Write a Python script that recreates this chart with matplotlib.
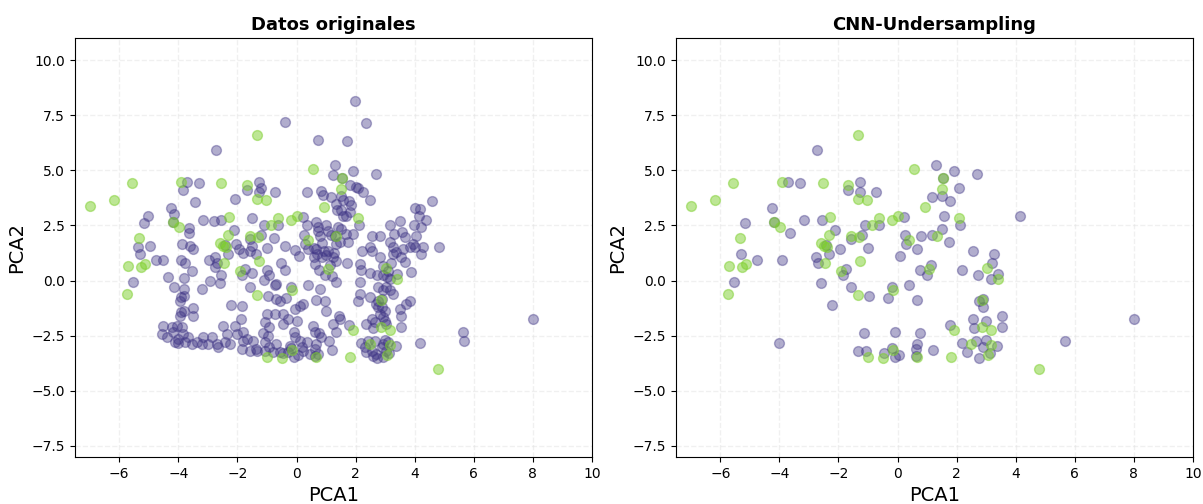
#Grafico PCA: datos originales vs CNN-Undersampling

import matplotlib
matplotlib.use('Agg')
import matplotlib.pyplot as plt
import numpy as np

# clase minoritaria (verde), igual en ambos graficos
min_x = [-6.98, -6.19, -5.56, -3.92, -2.54, -1.34, 0.55, -1.68, -1.34, -1.03,
         -4.19, -3.99, -2.30, -2.32, -5.33, -5.69, -5.26, -5.13, -2.59, -2.48,
         -2.40, -2.45, -1.59, -1.29, -1.28, -1.90, -0.88, -0.64, -0.19, 0.00,
         0.40, 0.94, 1.54, 1.50, 2.07, 1.33, 1.05, 3.02, 3.40, -5.73,
         -1.34, -0.17, -1.00, -0.49, -0.16, 0.66, 1.91, 2.87, 3.16, 2.47,
         3.15, 3.06, 1.80, 4.79, 2.86]
min_y = [3.38, 3.67, 4.42, 4.48, 4.42, 6.62, 5.06, 4.33, 3.68, 3.65,
         2.65, 2.42, 2.89, 2.06, 1.91, 0.67, 0.61, 0.77, 1.70, 1.59,
         1.52, 0.80, 2.02, 1.97, 0.88, 0.45, 2.53, 2.82, 2.73, 2.91,
         1.86, 3.33, 4.67, 4.17, 2.83, 2.02, 0.53, 0.56, 0.08, -0.59,
         -0.65, -0.45, -3.45, -3.51, -3.15, -3.45, -2.24, -2.10, -2.24, -2.88,
         -2.92, -3.38, -3.45, -4.00, -0.88]

# clase mayoritaria que se conserva con CNN
kept_x = [-2.74, -3.72, -3.30, -1.28, -1.68, -1.28, -0.74, -4.24, -5.17, -4.19,
          -3.15, -2.55, -3.64, -2.12, -1.10, -0.62, -1.21, -1.59, 0.21, 0.24,
          0.27, 0.81, 0.66, -1.00, -1.95, -2.42, -2.75, -2.69, -2.33, -5.31,
          -4.76, -3.92, -1.76, -1.84, 0.07, 0.76, -5.54, -2.59, -1.59, -0.19,
          0.38, 1.30, 1.92, 2.68, 1.54, 2.08, 1.15, 1.50, 1.77, 1.56,
          2.12, 1.50, 4.16, 1.15, 1.73, 2.54, 3.28, 3.19, 1.12, 0.98,
          2.19, 2.71, 3.16, 3.40, -0.96, -0.34, 0.66, -2.21, -4.00, -1.14,
          -0.07, 0.75, -1.34, -1.06, -0.47, -0.19, -0.10, 0.06, 0.66, 0.63,
          0.61, 2.76, 2.90, 2.90, 3.55, 2.56, 2.98, 1.77, 2.58, 3.52,
          2.18, 2.67, 2.98, 2.90, 3.38, 2.34, 2.74, 3.12, 1.21, 5.66,
          7.99]
kept_y = [5.94, 4.47, 4.41, 4.48, 4.12, 4.01, 4.02, 3.29, 2.62, 2.65,
          2.74, 2.74, 2.15, 2.29, 2.53, 2.50, 2.08, 1.88, 2.88, 2.08,
          1.67, 2.01, 1.42, 1.48, 1.42, 1.62, 1.09, 0.80, 1.20, 1.21,
          0.91, 0.94, 0.53, 0.26, 1.11, 0.50, -0.08, -0.11, -0.30, -0.30,
          -0.20, 5.24, 4.95, 4.82, 4.67, 4.18, 3.79, 3.83, 3.62, 2.94,
          2.52, 2.33, 2.95, 2.08, 1.73, 1.33, 1.21, 0.79, 0.70, 0.23,
          0.50, 0.26, 0.08, 0.29, -0.71, -0.79, -0.89, -1.11, -2.85, -2.39,
          -2.33, -2.36, -3.18, -3.20, -3.29, -3.05, -3.45, -3.36, -2.88, -3.11,
          -3.44, -0.94, -0.82, -1.21, -1.61, -1.74, -1.85, -2.02, -2.15, -2.10,
          -2.82, -2.73, -2.70, -3.03, -2.98, -3.26, -3.53, -3.27, -3.15, -2.73,
          -1.76]

# clase mayoritaria eliminada por CNN (solo en datos originales)
rem_x = [-0.38, 0.73, 1.24, -3.83, -1.21, 0.34, 0.84, 0.90, 1.35, -2.08,
         -3.43, -4.15, -5.02, -2.79, -1.51, 0.37, 0.67, 1.01, 0.73, 1.05,
         0.87, 0.59, 0.94, 0.70, 1.06, 0.59, 0.86, 1.28, 1.40, -3.65,
         -0.77, -0.40, -0.05, 0.39, -5.37, -4.95, -4.53, -3.86, -3.60, -3.51,
         -3.77, -3.53, -4.34, -2.97, -2.75, -2.05, -1.80, -1.58, -1.52, -1.36,
         -0.99, -0.92, -0.68, -1.09, -0.51, -0.40, -1.50, -2.57, -2.92, -3.21,
         -4.15, -3.80, -3.80, 0.64, 1.20, 1.35, -0.73, 1.30, 1.35, 1.35,
         1.97, 2.34, 1.72, 1.80, 2.00, 2.25, 1.57, 1.86, 2.50, 1.37,
         1.52, 1.69, 1.80, 0.73, 1.69, 1.91, 1.46, 2.57, 2.81, 3.15,
         3.30, 3.49, 3.58, 3.66, 4.00, 4.19, 4.39, 4.58, 3.97, 4.22,
         4.05, 3.94, 4.00, 4.28, 4.82, 4.22, 3.15, 3.26, 3.38, 3.54,
         3.60, 3.66, 3.88, 3.83, 2.22, 2.48, 2.81, 2.91, 3.09, 3.06,
         2.14, 2.48, 2.91, 2.76, 3.04, 2.93, 0.81, 1.70, 1.24, 1.01,
         -3.91, -3.96, -3.80, -3.91, -3.80, -3.51, -3.51, -3.94, -1.86, -1.89,
         -0.68, -0.56, 0.11, 0.22, -0.06, -0.45, -0.28, 0.00, -0.45, -0.73,
         -1.01, -1.07, -0.92, 0.96, 1.01, -0.06, 0.11, 0.34, 0.22, 0.56,
         0.61, 0.73, 1.22, 1.11, 1.33, 1.48,
         -4.51, -4.56, -4.39, -4.22, -4.17, -4.05, -3.89, -3.83, -4.00, -4.11,
         -3.77, -3.66, -3.55, -3.38, -3.21, -3.15, -2.99, -2.87, -2.70, -2.65,
         -2.48, -2.42, -2.36, -2.25, -2.08, -2.03, -1.80, -1.80, -1.69, -1.86,
         -1.58, -1.47, -1.36, -1.07, -0.96, -0.93, -0.79, -0.68, -0.56, -0.28,
         -0.23, 0.17,
         1.44, 0.84, 0.45, 2.14, 2.08, 2.48, 2.70, 2.76, 2.98, 2.81,
         2.93, 3.17, 3.26, 3.49, 3.71, 3.83, 2.34, 2.65, 3.04, 2.31,
         2.43, 2.54, 2.59, 2.70, 2.93, 3.04, 3.10, 2.93, 4.19, 5.63,
         2.14]
rem_y = [7.17, 6.36, 4.77, 4.12, 4.20, 4.02, 4.04, 3.89, 3.48, 3.70,
         3.55, 3.03, 2.92, 2.72, 2.83, 2.52, 2.65, 2.50, 2.27, 2.27,
         1.70, 1.49, 1.36, 1.21, 1.33, 1.06, 1.06, 1.27, 2.45, 2.40,
         1.94, 1.55, 1.39, 1.42, 1.52, 1.59, 0.95, 1.67, 1.59, 1.42,
         0.78, 0.45, 0.18, 0.94, 0.60, 1.67, 1.27, 1.35, 1.59, 1.21,
         0.49, 0.27, -0.15, 0.03, 0.81, 0.48, 0.33, 0.26, -0.03, -0.39,
         -0.30, -0.39, 0.13, 0.75, 0.21, -0.08, -0.21, 2.01, 1.67, 0.88,
         8.15, 7.15, 6.33, 4.32, 4.24, 4.03, 3.64, 3.41, 3.64, 3.18,
         3.18, 2.91, 3.11, 2.42, 2.12, 2.12, 1.74, 2.00, 2.00, 2.50,
         2.12, 2.68, 2.18, 1.97, 3.30, 3.26, 2.74, 3.61, 2.50, 2.45,
         2.03, 1.64, 1.52, 1.52, 1.52, 1.21, 1.74, 1.52, 1.29, 1.06,
         1.44, 0.83, 0.38, 1.52, 1.36, 1.52, 1.09, 0.68, 0.45, 0.15,
         0.76, 0.33, 0.23, -0.30, -0.30, -0.42, -0.38, 0.79, 1.06, 1.14,
         -0.76, -0.91, -0.68, -1.44, -1.36, -1.24, -1.59, -1.59, -1.17, -1.74,
         -0.83, -0.91, -1.14, -1.06, -1.29, -1.52, -1.74, -1.82, -1.97, -1.52,
         -1.52, -1.89, -2.12, -0.91, -1.36, -2.58, -2.73, -2.80, -3.20, -2.05,
         -2.35, -3.33, -1.97, -2.73, -2.35, -1.74,
         -2.05, -2.42, -2.58, -2.12, -2.35, -2.05, -2.12, -2.42, -2.65, -2.80,
         -2.80, -2.58, -2.88, -2.80, -2.88, -2.58, -2.88, -2.58, -2.88, -3.03,
         -2.05, -2.80, -2.42, -2.88, -2.05, -2.42, -2.35, -2.73, -2.65, -3.11,
         -3.18, -2.73, -3.11, -2.80, -2.50, -3.03, -3.26, -2.88, -3.26, -3.26,
         -2.95, -3.03,
         -1.59, -2.58, -3.33, -0.61, -0.91, -0.73, -1.06, -1.21, -1.36, -1.52,
         -1.67, -0.45, -0.61, -1.29, -1.06, -0.91, -1.97, -1.89, -1.97, -3.03,
         -2.73, -3.18, -3.41, -3.33, -2.88, -3.18, -2.80, -3.48, -2.83, -2.32,
         -0.08]

purple = '#3d3384'
green = '#7dcf2c'

orig_x = np.array(kept_x + rem_x)
orig_y = np.array(kept_y + rem_y)

fig = plt.figure(figsize=(12.03, 5.04), dpi=100)
ax1 = fig.add_axes([0.0623, 0.0933, 0.4298, 0.8313])
ax2 = fig.add_axes([0.5619, 0.0933, 0.4298, 0.8313])

for ax, mx, my, titulo in [(ax1, orig_x, orig_y, 'Datos originales'),
                           (ax2, np.array(kept_x), np.array(kept_y), 'CNN-Undersampling')]:
    ax.grid(True, linestyle='--', linewidth=1, color='#e2e2e2', alpha=0.5)
    ax.set_axisbelow(True)
    ax.scatter(mx, my, s=50, color=purple, alpha=0.4, linewidths=1)
    ax.scatter(min_x, min_y, s=50, color=green, alpha=0.5, linewidths=1)
    ax.set_xlim(-7.5, 10)
    ax.set_ylim(-8, 11)
    ax.set_xticks(np.arange(-6, 11, 2))
    ax.set_yticks(np.arange(-7.5, 10.1, 2.5))
    ax.tick_params(labelsize=10)
    ax.set_xlabel('PCA1', fontsize=14)
    ax.set_ylabel('PCA2', fontsize=14)
    ax.set_title(titulo, fontsize=13, fontweight='bold')

fig.savefig('out.png', dpi=100)
